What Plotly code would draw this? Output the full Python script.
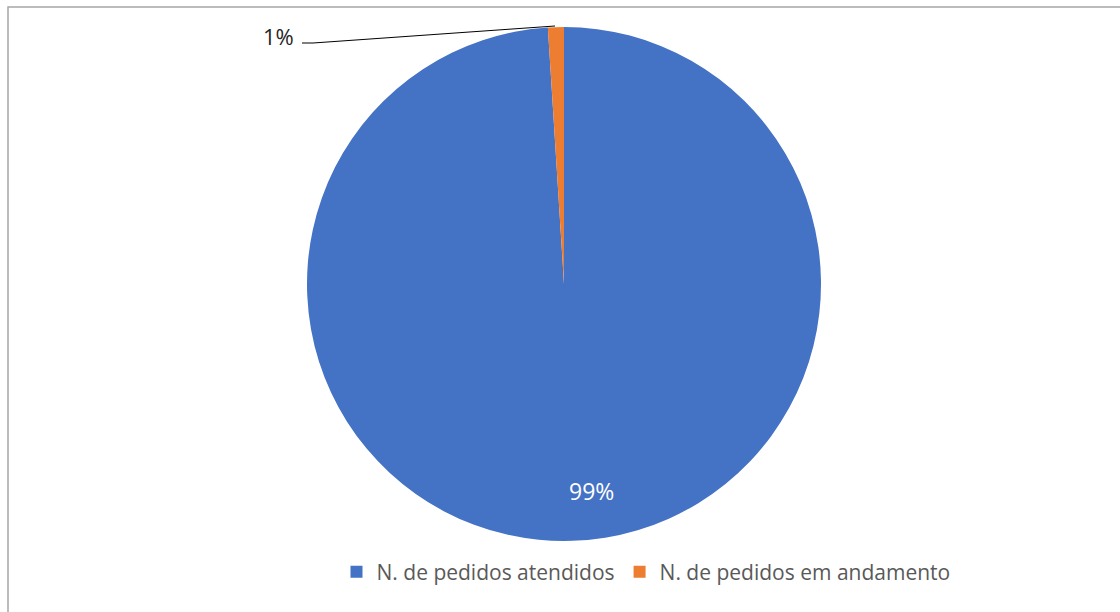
import plotly.graph_objects as go

labels = ["N. de pedidos atendidos", "N. de pedidos em andamento"]
values = [99, 1]
colors = ["#4472C4", "#ED7D31"]

W, H = 1120, 612
total = sum(values)
pct = [f"{round(v / total * 100)}%" for v in values]

def px(x):
    return x / W

def py(y):
    return 1 - y / H

fig = go.Figure(go.Pie(
    labels=labels,
    values=values,
    marker=dict(colors=colors, line=dict(color="white", width=0)),
    sort=False,
    direction="clockwise",
    rotation=0,
    textinfo="none",
    hoverinfo="label+percent",
    domain=dict(x=[px(307), px(821)], y=[py(541), py(27)]),
))

font_family = "Open Sans, Noto Sans, Liberation Sans, sans-serif"

fig.update_layout(
    width=W, height=H,
    margin=dict(l=0, r=0, t=0, b=0),
    paper_bgcolor="white",
    plot_bgcolor="white",
    font=dict(family=font_family),
    showlegend=True,
    legend=dict(
        orientation="h", x=px(646), xanchor="center", y=py(572), yanchor="middle",
        font=dict(size=21, color="#595959", family=font_family),
        traceorder="normal",
        itemwidth=30,
    ),
    annotations=[
        dict(text=pct[0], x=px(591), y=py(491), xref="paper", yref="paper",
             xanchor="center", yanchor="middle", showarrow=False,
             font=dict(size=23, color="white", family=font_family)),
        dict(text=pct[1], x=px(296), y=py(36), xref="paper", yref="paper",
             xanchor="right", yanchor="middle", showarrow=False,
             font=dict(size=22, color="#262626", family=font_family)),
    ],
    shapes=[
        dict(type="rect", xref="paper", yref="paper", x0=px(8), y0=py(7),
             x1=px(1130), y1=py(620), line=dict(color="#A6A6A6", width=1.5),
             fillcolor="rgba(0,0,0,0)"),
        dict(type="path", xref="paper", yref="paper",
             path=f"M {px(302)},{py(43)} L {px(313)},{py(43)} L {px(555)},{py(26)}",
             line=dict(color="black", width=1)),
    ],
)

fig.write_html(
    "out.html",
    config={"displayModeBar": False},
    post_script="document.body.style.margin='0';document.body.style.overflow='hidden';",
)
